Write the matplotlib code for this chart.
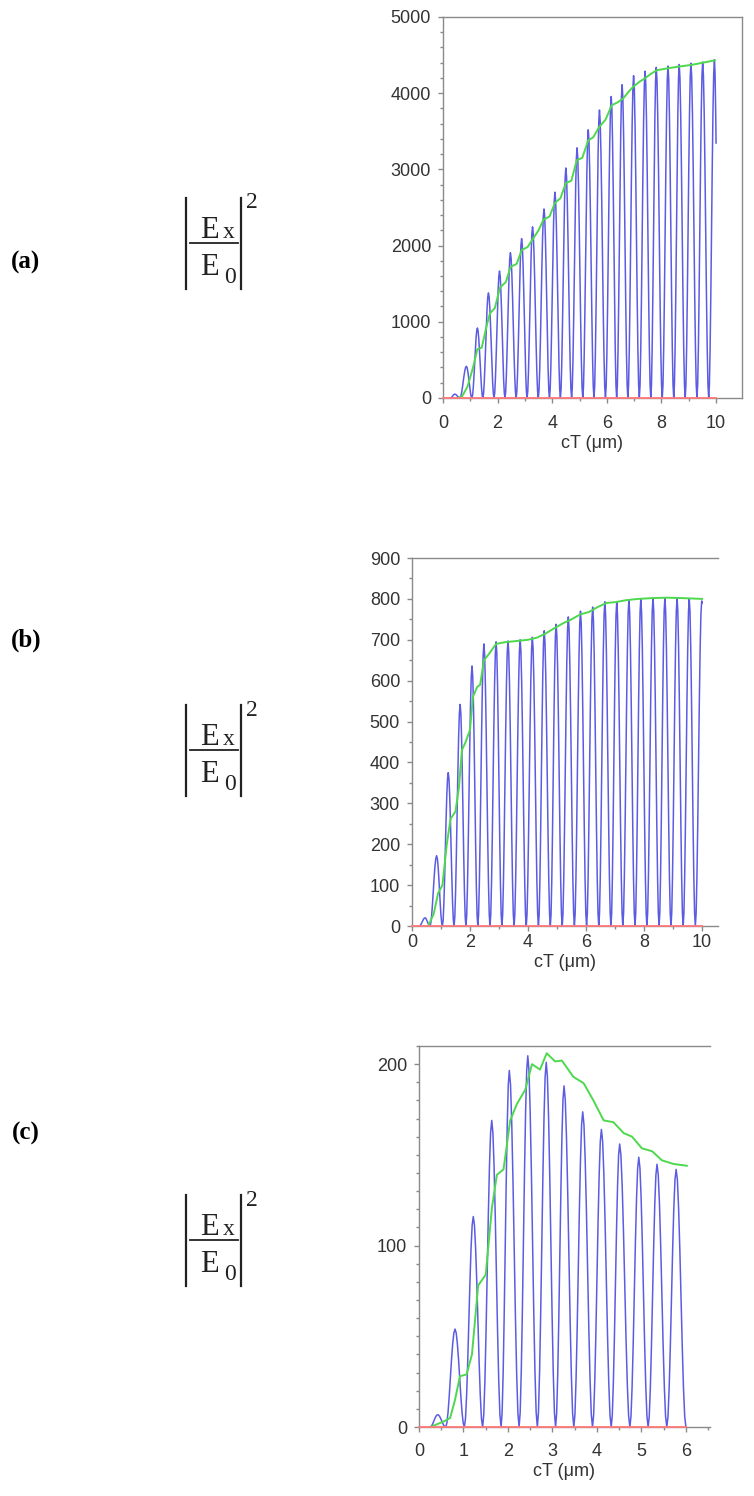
import matplotlib
matplotlib.use("Agg")
import matplotlib.pyplot as plt
from matplotlib.lines import Line2D
from matplotlib.ticker import MultipleLocator

# ---- data ----
# (a)
a_peak_x = [0.43, 0.857, 1.26, 1.665, 2.07, 2.47, 2.88, 3.28, 3.70, 4.10, 4.50, 4.91,
            5.32, 5.73, 6.16, 6.56, 6.98, 7.40, 7.81, 8.24, 8.65, 9.08, 9.51, 9.94]
a_peak_y = [50, 415, 918, 1378, 1665, 1905, 2090, 2245, 2480, 2700, 3018, 3282,
            3518, 3778, 3955, 4110, 4228, 4288, 4338, 4355, 4375, 4392, 4408, 4438]
a_trough = [0.28, 0.62, 1.06, 1.46, 1.87, 2.27, 2.68, 3.08, 3.49, 3.90, 4.30, 4.71, 5.12,
            5.53, 5.95, 6.36, 6.77, 7.19, 7.61, 8.03, 8.45, 8.87, 9.30, 9.73, 10.12]
a_env_x = [0.55, 0.7, 0.9, 1.1, 1.26, 1.42, 1.6, 1.72, 1.9, 2.09, 2.3, 2.48, 2.7, 2.88,
           3.1, 3.28, 3.5, 3.68, 3.9, 4.1, 4.3, 4.5, 4.7, 4.9, 5.1, 5.32, 5.5, 5.73,
           5.95, 6.18, 6.4, 6.6, 6.8, 6.97, 7.2, 7.4, 7.6, 7.83, 8.25, 8.68, 9.1, 9.53, 9.95]
a_env_y = [0, 20, 150, 400, 640, 660, 950, 1110, 1180, 1450, 1520, 1720, 1760, 1940,
           1980, 2080, 2200, 2340, 2380, 2560, 2620, 2820, 2850, 3120, 3150, 3380, 3420, 3560,
           3650, 3840, 3880, 3930, 4020, 4085, 4150, 4195, 4250, 4300, 4327, 4350, 4370, 4400, 4430]
a_end, a_end_y = 10.0, 3345

# (b)
b_peak_x = [0.45, 0.85, 1.25, 1.66, 2.07, 2.48, 2.90, 3.31, 3.73, 4.15, 4.56, 4.97,
            5.39, 5.81, 6.23, 6.65, 7.06, 7.48, 7.89, 8.31, 8.72, 9.14, 9.56, 9.99]
b_peak_y = [20, 172, 375, 542, 636, 690, 695, 697, 700, 706, 722, 738,
            756, 770, 780, 793, 792, 798, 800, 802, 802, 802, 800, 795]
b_trough = [0.25, 0.62, 1.05, 1.45, 1.86, 2.27, 2.69, 3.10, 3.52, 3.94, 4.36, 4.77, 5.18,
            5.60, 6.02, 6.44, 6.86, 7.27, 7.69, 8.10, 8.52, 8.93, 9.35, 9.77, 10.2]
b_env_x = [0.56, 0.75, 0.9, 1.05, 1.2, 1.33, 1.5, 1.62, 1.72, 1.85, 2.0, 2.1, 2.25, 2.35,
           2.48, 2.65, 2.9, 3.2, 3.6, 4.0, 4.3, 4.6, 4.9, 5.2, 5.5, 5.8, 6.1, 6.4, 6.7,
           7.0, 7.4, 7.8, 8.3, 8.8, 9.3, 10.0]
b_env_y = [0, 30, 80, 100, 200, 262, 280, 340, 430, 450, 480, 560, 585, 590,
           650, 665, 690, 694, 697, 700, 705, 715, 728, 740, 750, 762, 768, 780, 790,
           792, 797, 800, 802, 803, 802, 800]
b_end, b_end_y = 10.0, 790

# (c)
c_peak_x = [0.42, 0.81, 1.22, 1.635, 2.03, 2.445, 2.86, 3.26, 3.68, 4.10, 4.51, 4.94, 5.35, 5.78]
c_peak_y = [6.8, 54, 116, 169, 196.5, 204.6, 201, 188, 173.7, 164, 156, 148.7, 144.8, 142]
c_trough = [0.25, 0.60, 1.02, 1.43, 1.845, 2.25, 2.66, 3.07, 3.48, 3.90, 4.32, 4.74, 5.15, 5.57, 6.0]
c_env_x = [0.25, 0.55, 0.70, 0.81, 0.92, 1.07, 1.19, 1.33, 1.5, 1.64, 1.75, 1.9, 2.05, 2.2,
           2.39, 2.54, 2.72, 2.87, 3.06, 3.21, 3.47, 3.70, 3.92, 4.15, 4.37, 4.6, 4.79,
           5.01, 5.24, 5.46, 5.72, 6.02]
c_env_y = [0, 3, 5, 15, 28, 29, 40, 78, 84, 121, 139, 142, 169, 178,
           186, 200, 197, 206, 201.5, 202, 193, 189.5, 180, 169, 168, 162, 160,
           153.6, 152, 147, 145, 144]
c_end, c_end_y = 6.0, 0

# rising half of one lobe (fraction of the way trough->peak, fraction of peak height)
half_pos = [0, 0.125, 0.25, 0.375, 0.5, 0.625, 0.75, 0.875, 1.0]
half_shape = [0, 0.04, 0.15, 0.31, 0.5, 0.69, 0.85, 0.96, 1.0]

BLUE = '#5c5ce2'
GREEN = '#4ed84e'
RED = '#ff7a7a'
GREY = '#8a8a8a'
TXT = '#333333'
W, H = 754, 1496

plt.rcParams['font.family'] = ['Liberation Sans', 'DejaVu Sans']


def lobe_curve(px, py, tr, x_end, y_end):
    xs, ys = [], []
    for i in range(len(px)):
        a, p, b = tr[i], px[i], tr[i + 1]
        for f, s in zip(half_pos, half_shape):
            xs.append(a + (p - a) * f)
            ys.append(py[i] * s)
        for f, s in zip(half_pos[-2::-1], half_shape[-2::-1]):
            xs.append(p + (b - p) * (1 - f))
            ys.append(py[i] * s)
    keep = [k for k in range(len(xs)) if xs[k] < x_end - 1e-9]
    return [xs[k] for k in keep] + [x_end], [ys[k] for k in keep] + [y_end]


def panel(rect, px, py, tr, ex, ey, x_end, y_end, xmax, ymax, ymaj, ymin, xmaj, xmin,
          right, xpad):
    ax = fig.add_axes(rect)
    bx, by = lobe_curve(px, py, tr, x_end, y_end)
    ax.plot(bx, by, color=BLUE, lw=1.1, zorder=3)
    ax.plot(ex, ey, color=GREEN, lw=1.4, zorder=4)
    ax.plot([0, x_end], [0, 0], color=RED, lw=1.3, zorder=5, clip_on=False)
    ax.set_xlim(0, xmax)
    ax.set_ylim(0, ymax)
    ax.xaxis.set_major_locator(MultipleLocator(xmaj))
    ax.xaxis.set_minor_locator(MultipleLocator(xmin))
    ax.yaxis.set_major_locator(MultipleLocator(ymaj))
    ax.yaxis.set_minor_locator(MultipleLocator(ymin))
    for s in ['left', 'bottom', 'top', 'right']:
        ax.spines[s].set_color(GREY)
        ax.spines[s].set_linewidth(1.0)
    ax.spines['right'].set_visible(right)
    ax.tick_params(which='major', direction='out', length=3.6, width=1, color=GREY,
                   labelsize=13, labelcolor=TXT, pad=5)
    ax.tick_params(which='minor', direction='out', length=2.2, width=1, color=GREY)
    ax.tick_params(axis='x', which='major', pad=xpad)
    ax.tick_params(top=False, right=False, which='both')
    ax.set_xlabel('cT (μm)', fontsize=13, color=TXT, labelpad=2)
    return ax


def px_text(x, y, s, size, **kw):
    fig.text(x / W, 1 - y / H, s, fontsize=size, family='Liberation Serif', **kw)


def px_line(x0, y0, x1, y1, lw):
    fig.add_artist(Line2D([x0 / W, x1 / W], [1 - y0 / H, 1 - y1 / H],
                          transform=fig.transFigure, color='#222222', lw=lw))


def formula(yl):
    # |E_x / E_0|^2 with the fraction line at pixel row yl
    px_line(186, yl - 45, 186, yl + 46, 1.6)
    px_line(241, yl - 45, 241, yl + 46, 1.6)
    px_line(190, yl, 238, yl, 1.3)
    px_text(209, yl - 5, 'E', 22, ha='center', va='baseline', color='#222222')
    px_text(229, yl - 5, 'x', 17, ha='center', va='baseline', color='#222222')
    px_text(209, yl + 32, 'E', 22, ha='center', va='baseline', color='#222222')
    px_text(230, yl + 40, '0', 17, ha='center', va='baseline', color='#222222')
    px_text(252, yl - 40, '2', 17, ha='center', va='center', color='#222222')


fig = plt.figure(figsize=(W / 100, H / 100), dpi=100)

panel([0.5875, 0.7340, 0.3966, 0.2547], a_peak_x, a_peak_y, a_trough, a_env_x, a_env_y,
      a_end, a_end_y, 10.95, 5000, 1000, 200, 2, 1, True, 9)
panel([0.5464, 0.3810, 0.4058, 0.2460], b_peak_x, b_peak_y, b_trough, b_env_x, b_env_y,
      b_end, b_end_y, 10.55, 900, 100, 50, 2, 1, False, 2)
panel([0.5557, 0.0461, 0.3859, 0.2547], c_peak_x, c_peak_y, c_trough, c_env_x, c_env_y,
      c_end, c_end_y, 6.54, 210, 100, 10, 1, 0.5, False, 8)

for lab, ly, fl in [('(a)', 262, 243), ('(b)', 640, 750), ('(c)', 1133, 1240)]:
    px_text(26, ly, lab, 18, fontweight='bold', ha='center', va='center')
    formula(fl)

fig.savefig('out.png', dpi=100)
